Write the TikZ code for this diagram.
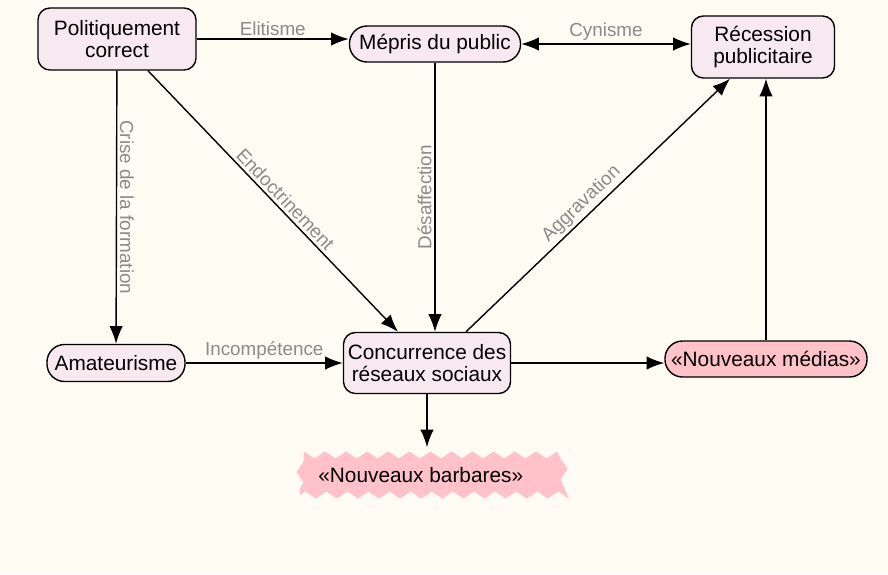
\documentclass[tikz,border=0pt]{standalone}
\usepackage{fontspec}
\setmainfont{Liberation Sans}
\usetikzlibrary{arrows.meta,positioning,decorations.pathmorphing}
\definecolor{paper}{HTML}{FEFBF3}
\definecolor{tintpink}{HTML}{F8E8F0}
\definecolor{alertpink}{HTML}{FFC2C8}
\definecolor{labelgray}{HTML}{8A8A8A}
\tikzset{
  mapnode/.style={draw=black,line width=1pt,rounded corners=8.5pt,fill=tintpink,align=center,font=\fontsize{14.8}{16}\selectfont,inner sep=2pt},
  pillnode/.style={mapnode,rounded corners=12.5pt},
  linkarrow/.style={-{Latex[length=12.5pt,width=9.5pt]},line width=1pt},
  linklabel/.style={font=\fontsize{13.4}{15}\selectfont,text=labelgray,inner sep=2pt},
}
\begin{document}
\begin{tikzpicture}[x=0.025cm,y=-0.025cm]
    \fill[paper] (0,0) rectangle (888,574);
    \node[mapnode,minimum width=3.95cm,minimum height=1.55cm] (polcor) at (117,39) {Politiquement\\correct};
    \node[pillnode,minimum width=4.275cm,minimum height=0.9cm] (mepris) at (435,44) {Mépris du public};
    \node[mapnode,minimum width=3.575cm,minimum height=1.55cm] (recession) at (763,47) {Récession\\publicitaire};
    \node[pillnode,minimum width=3.45cm,minimum height=0.925cm] (amateur) at (116,363) {Amateurisme};
    \node[mapnode,minimum width=4.175cm,minimum height=1.525cm] (conc) at (427,363) {Concurrence des\\réseaux sociaux};
    \node[pillnode,fill=alertpink,minimum width=5.05cm,minimum height=0.9cm] (medias) at (766,359) {«Nouveaux médias»};
    \node[mapnode,draw=none,rounded corners=0pt,fill=alertpink,decorate,decoration={zigzag,segment length=15pt,amplitude=2.5pt},minimum width=6.6cm,minimum height=1.0cm] (barbares) at (432,475) {«Nouveaux barbares»\hspace*{16pt}};
    \draw[linkarrow] (polcor) -- node[linklabel,above]{Elitisme} (polcor -| mepris.west);
    \draw[linkarrow,{Latex[length=12.5pt,width=9.5pt]}-{Latex[length=12.5pt,width=9.5pt]}] (mepris.east) -- node[linklabel,above]{Cynisme} (mepris.east -| recession.west);
    \draw[linkarrow] (polcor) -- node[linklabel,pos=0.5,rotate=-90,anchor=south]{Crise de la formation} (amateur);
    \draw[linkarrow] ([xshift=31*0.025cm]polcor.south) -- node[linklabel,pos=0.52,sloped,above]{Endoctrinement} ([xshift=-29*0.025cm]conc.north);
    \draw[linkarrow] (mepris.south) -- node[linklabel,pos=0.5,rotate=90,anchor=south]{Désaffection} (mepris.south |- conc.north);
    \draw[linkarrow] ([xshift=39*0.025cm]conc.north) -- node[linklabel,pos=0.47,sloped,above]{Aggravation} ([xshift=-33*0.025cm]recession.south);
    \draw[linkarrow] (amateur) -- node[linklabel,above]{Incompétence} (conc);
    \draw[linkarrow] (conc.east) -- (conc.east -| medias.west);
    \draw[linkarrow] (medias.north) -- (medias.north |- recession.south);
    \draw[linkarrow,shorten >=5pt] (conc.south) -- (conc.south |- barbares.north);
\end{tikzpicture}
\end{document}
